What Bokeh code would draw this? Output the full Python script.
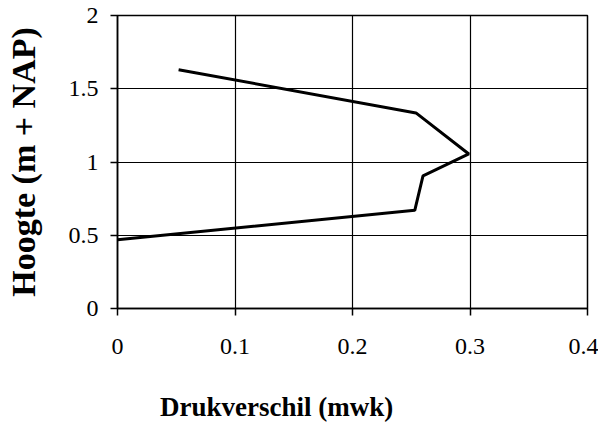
from bokeh.plotting import figure
from bokeh.layouts import column
from bokeh.models import Range1d, FixedTicker, CustomJSTickFormatter, Div
from bokeh.embed import file_html
from bokeh.resources import INLINE

# Data
druk = [0.052, 0.254, 0.299, 0.260, 0.253, 0.0]
hoogte = [1.63, 1.335, 1.055, 0.905, 0.67, 0.47]

x_ticks = [0, 0.1, 0.2, 0.3, 0.4]
x_tick_labels = ["0", "0.1", "0.2", "0.3", "0.4"]
y_ticks = [0, 0.5, 1, 1.5, 2]
y_tick_labels = ["0", "0.5", "1", "1.5", "2"]

x_title = "Drukverschil (mwk)"
y_title = "Hoogte (m + NAP)"

p = figure(width=598, height=394, output_backend="svg", toolbar_location=None,
           x_range=Range1d(x_ticks[0], x_ticks[-1]),
           y_range=Range1d(y_ticks[0], y_ticks[-1]),
           min_border_left=117, min_border_right=11,
           min_border_top=15, min_border_bottom=86)
p.background_fill_color = "white"
p.border_fill_color = "white"
p.outline_line_color = "black"
p.outline_line_width = 1.5

p.line(druk, hoogte, line_color="black", line_width=3)

fmt_code = """
let best = 0; let d = 1e9;
for (let i = 0; i < tvals.length; i++) {
  const dd = Math.abs(tvals[i] - tick);
  if (dd < d) { d = dd; best = i; }
}
return tlabels[best];
"""
p.xaxis.ticker = FixedTicker(ticks=x_ticks)
p.yaxis.ticker = FixedTicker(ticks=y_ticks)
p.xaxis.formatter = CustomJSTickFormatter(args=dict(tvals=x_ticks, tlabels=x_tick_labels), code=fmt_code)
p.yaxis.formatter = CustomJSTickFormatter(args=dict(tvals=y_ticks, tlabels=y_tick_labels), code=fmt_code)

for ax in (p.xaxis, p.yaxis):
    ax.axis_line_color = "black"
    ax.axis_line_width = 1.5
    ax.major_tick_line_color = "black"
    ax.major_tick_line_width = 1.5
    ax.major_tick_in = 0
    ax.major_tick_out = 7
    ax.minor_tick_line_color = None
    ax.major_label_text_font = "Liberation Serif"
    ax.major_label_text_font_size = "24px"
    ax.major_label_text_color = "black"
    ax.axis_label_text_font = "Liberation Serif"
    ax.axis_label_text_font_style = "bold"
    ax.axis_label_text_color = "black"

p.yaxis.axis_label = y_title
p.yaxis.axis_label_text_font_size = "34px"
p.xaxis.major_label_standoff = 23
p.yaxis.major_label_standoff = 12
p.yaxis.axis_label_standoff = 24

p.xgrid.grid_line_color = "black"
p.ygrid.grid_line_color = "black"
p.xgrid.grid_line_width = 1.2
p.ygrid.grid_line_width = 1.2
p.xgrid.grid_line_alpha = 1.0
p.ygrid.grid_line_alpha = 1.0

# x-axis title: in the reference it sits left of the plot centre
xdiv = Div(text=x_title, width=438, height=30, margin=(0, 0, 0, 160),
           styles={"font-family": "Liberation Serif", "font-weight": "bold",
                   "font-size": "27px", "line-height": "27px",
                   "color": "black", "white-space": "nowrap"})

layout = column(p, xdiv, spacing=0)

open("out.html", "w").write(file_html(layout, INLINE))
